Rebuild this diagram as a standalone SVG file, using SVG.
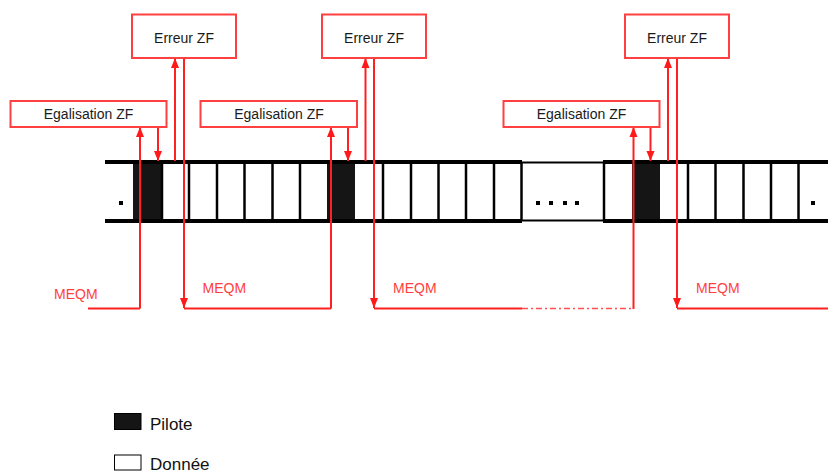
<svg xmlns="http://www.w3.org/2000/svg" width="828" height="474" viewBox="0 0 828 474">
<defs>
<marker id="ah" markerUnits="userSpaceOnUse" markerWidth="10" markerHeight="10" viewBox="0 0 10 10" refX="10" refY="5" orient="auto">
<path d="M0,1 L10,5 L0,9 Z" fill="#ff1a1a"/>
</marker>
<style>
.box{fill:#fff;stroke:#ff4040;stroke-width:2}
.lbl{font-family:"Liberation Sans",Arial,sans-serif;font-size:14px;fill:#1a1a1a;text-anchor:middle}
.meqm{font-family:"Liberation Sans",Arial,sans-serif;font-size:14px;fill:#ff4040}
.leg{font-family:"Liberation Sans",Arial,sans-serif;font-size:17px;fill:#111}
.rl{fill:none;stroke:#ff2020;stroke-width:2}
.ra{fill:none;stroke:#ff2020;stroke-width:2;marker-end:url(#ah)}
.thick{stroke:#000;stroke-width:4}
.thin{stroke:#000;stroke-width:2}
.cell{stroke:#000;stroke-width:2.5}
.pil{fill:#151515}
.dot{fill:#000}
</style>
</defs>
<rect width="828" height="474" fill="#fff"/>

<g id="band">
<rect class="pil" x="133" y="162" width="28" height="59"/>
<rect class="pil" x="327" y="162" width="28" height="59"/>
<rect class="pil" x="632" y="162" width="28" height="59"/>
<line class="thick" x1="105" y1="162" x2="522" y2="162"/>
<line class="thick" x1="105" y1="221" x2="522" y2="221"/>
<line class="thin" x1="521" y1="162.5" x2="604" y2="162.5"/>
<line class="thin" x1="521" y1="220.5" x2="604" y2="220.5"/>
<line class="thick" x1="603" y1="162" x2="828" y2="162"/>
<line class="thick" x1="603" y1="221" x2="828" y2="221"/>
<g class="cell">
<line x1="162" y1="162" x2="162" y2="221"/>
<line x1="189" y1="162" x2="189" y2="221"/>
<line x1="217" y1="162" x2="217" y2="221"/>
<line x1="244.5" y1="162" x2="244.5" y2="221"/>
<line x1="272.5" y1="162" x2="272.5" y2="221"/>
<line x1="300" y1="162" x2="300" y2="221"/>
<line x1="383" y1="162" x2="383" y2="221"/>
<line x1="411" y1="162" x2="411" y2="221"/>
<line x1="438.5" y1="162" x2="438.5" y2="221"/>
<line x1="466" y1="162" x2="466" y2="221"/>
<line x1="494" y1="162" x2="494" y2="221"/>
<line x1="521.5" y1="162" x2="521.5" y2="221"/>
<line x1="604" y1="162" x2="604" y2="221"/>
<line x1="688" y1="162" x2="688" y2="221"/>
<line x1="715.5" y1="162" x2="715.5" y2="221"/>
<line x1="743.5" y1="162" x2="743.5" y2="221"/>
<line x1="771" y1="162" x2="771" y2="221"/>
<line x1="798.5" y1="162" x2="798.5" y2="221"/>
</g>
<rect class="dot" x="119" y="201" width="4" height="4"/>
<rect class="dot" x="536" y="201" width="4" height="4"/>
<rect class="dot" x="549" y="201" width="4" height="4"/>
<rect class="dot" x="563" y="201" width="4" height="4"/>
<rect class="dot" x="575" y="201" width="4" height="4"/>
<rect class="dot" x="811" y="201" width="4" height="4"/>
</g>

<g id="connectors">
<path class="rl" d="M88,308.5 H140"/>
<path class="ra" d="M140,308.5 V127"/>
<path class="ra" d="M158,127 V161"/>
<path class="ra" d="M175,161 V58"/>
<path class="ra" d="M184,58 V308"/>
<path class="rl" d="M184,308.5 H331"/>
<path class="ra" d="M331,308.5 V127"/>
<path class="ra" d="M348,127 V161"/>
<path class="ra" d="M365.5,161 V58"/>
<path class="ra" d="M374,58 V308"/>
<path class="rl" d="M374,308.5 H522"/>
<path fill="none" stroke="#ff5050" stroke-width="1.5" stroke-dasharray="6 3 2 3" d="M522,308.5 H633"/>
<path class="ra" d="M633.5,309 V127"/>
<path class="ra" d="M650.5,127 V161"/>
<path class="ra" d="M668,161 V58"/>
<path class="ra" d="M677,58 V308"/>
<path class="rl" d="M677,308.5 H828"/>
</g>

<g id="erreur1"><rect class="box" x="132" y="14.5" width="104" height="43.5"/><text class="lbl" x="184" y="42.5">Erreur ZF</text></g>
<g id="erreur2"><rect class="box" x="322" y="14.5" width="104" height="43.5"/><text class="lbl" x="374" y="42.5">Erreur ZF</text></g>
<g id="erreur3"><rect class="box" x="625" y="14.5" width="104" height="43.5"/><text class="lbl" x="677" y="42.5">Erreur ZF</text></g>
<g id="egal1"><rect class="box" x="10.5" y="101" width="156" height="26"/><text class="lbl" x="88.5" y="119">Egalisation ZF</text></g>
<g id="egal2"><rect class="box" x="200.5" y="101" width="156.5" height="26"/><text class="lbl" x="279" y="119">Egalisation ZF</text></g>
<g id="egal3"><rect class="box" x="503.5" y="101" width="156" height="26"/><text class="lbl" x="581.5" y="119">Egalisation ZF</text></g>

<g id="meqm-labels">
<text class="meqm" x="54" y="299">MEQM</text>
<text class="meqm" x="202.5" y="293">MEQM</text>
<text class="meqm" x="393" y="293">MEQM</text>
<text class="meqm" x="696" y="293">MEQM</text>
</g>

<g id="legend">
<rect x="114.5" y="413.5" width="26.5" height="16" fill="#151515" stroke="#000" stroke-width="1"/>
<text class="leg" x="150" y="430">Pilote</text>
<rect x="114.5" y="455" width="26.5" height="15" fill="#fff" stroke="#000" stroke-width="1"/>
<text class="leg" x="150" y="469.5">Donnée</text>
</g>
</svg>
